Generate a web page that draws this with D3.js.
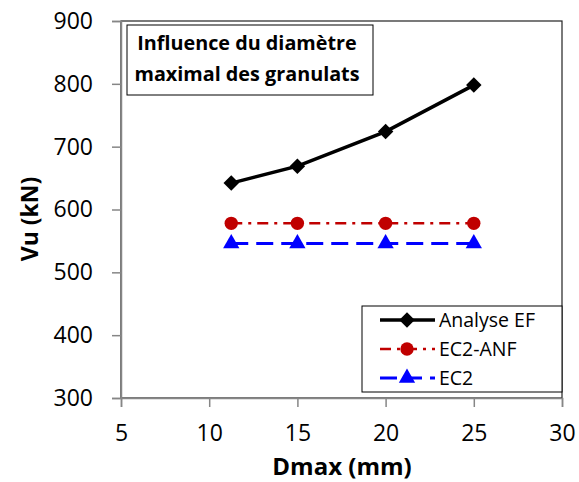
<!DOCTYPE html>
<html>
<head>
<meta charset="utf-8">
<script src="https://cdn.jsdelivr.net/npm/d3@7"></script>
<style>
  body { margin: 0; background: #fff; }
  text { font-family: "Open Sans", sans-serif; }
</style>
</head>
<body>
<svg id="chart"></svg>
<script>
// data
const dmax = [11.25, 15, 20, 25];
const analyseEF = [642, 669, 724, 798];
const ec2ANF = [578, 578, 578, 578];
const ec2 = [546, 546, 546, 546];
const xTicks = [5, 10, 15, 20, 25, 30];
const yTicks = [300, 400, 500, 600, 700, 800, 900];

const width = 579, height = 482;
const margin = { top: 21, right: 17, bottom: 84, left: 121 };

const svg = d3.select('#chart')
  .attr('width', width)
  .attr('height', height);

const x = d3.scaleLinear().domain([5, 30]).range([margin.left, width - margin.right]);
const y = d3.scaleLinear().domain([300, 900]).range([height - margin.bottom, margin.top]);

// plot frame
svg.append('rect')
  .attr('x', x(5)).attr('y', y(900))
  .attr('width', x(30) - x(5)).attr('height', y(300) - y(900))
  .attr('fill', 'none').attr('stroke', '#222').attr('stroke-width', 1.2);

// axes
const yAxis = svg.append('g')
  .attr('transform', `translate(${x(5)},0)`)
  .call(d3.axisLeft(y).tickValues(yTicks).tickSize(9).tickPadding(19));
const xAxis = svg.append('g')
  .attr('transform', `translate(0,${y(300)})`)
  .call(d3.axisBottom(x).tickValues(xTicks).tickSize(9).tickPadding(18));
[xAxis, yAxis].forEach(g => {
  g.select('.domain').attr('stroke', '#868686').attr('stroke-width', 1.5);
  g.selectAll('.tick line').attr('stroke', '#868686').attr('stroke-width', 1.5);
  g.selectAll('.tick text').attr('fill', '#000').style('font-size', '23px')
    .style('font-family', '"Open Sans", sans-serif');
});

// axis titles
svg.append('text')
  .attr('transform', `translate(38,${219}) rotate(-90)`)
  .attr('text-anchor', 'middle')
  .style('font-size', '23px').style('font-weight', 'bold')
  .text('Vu (kN)');
svg.append('text')
  .attr('x', 342).attr('y', 475)
  .attr('text-anchor', 'middle')
  .style('font-size', '24px').style('font-weight', 'bold')
  .text('Dmax (mm)');

const diamond = { draw(ctx, size) { const r = Math.sqrt(size / 2); ctx.moveTo(0, -r); ctx.lineTo(r, 0); ctx.lineTo(0, r); ctx.lineTo(-r, 0); ctx.closePath(); } };

const series = [
  { name: 'Analyse EF', values: analyseEF, color: '#000000', dash: null, width: 3.5, symbol: diamond, size: 120 },
  { name: 'EC2-ANF', values: ec2ANF, color: '#C00000', dash: '11,6,3,6', width: 2.5, symbol: d3.symbolCircle, size: 140 },
  { name: 'EC2', values: ec2, color: '#0000FF', dash: '17,8', width: 3, symbol: d3.symbolTriangle, size: 115 }
];

const line = d3.line().x(d => x(d[0])).y(d => y(d[1]));

series.forEach(s => {
  const pts = dmax.map((d, i) => [d, s.values[i]]);
  svg.append('path')
    .datum(pts)
    .attr('d', line)
    .attr('fill', 'none')
    .attr('stroke', s.color)
    .attr('stroke-width', s.width)
    .attr('stroke-dasharray', s.dash);
  svg.selectAll(null)
    .data(pts)
    .join('path')
    .attr('transform', d => `translate(${x(d[0])},${y(d[1])})`)
    .attr('d', d3.symbol().type(s.symbol).size(s.size))
    .attr('fill', s.color);
});

// title box
const tb = svg.append('g');
tb.append('rect')
  .attr('x', 127).attr('y', 25).attr('width', 246).attr('height', 70)
  .attr('fill', '#fff').attr('stroke', '#000').attr('stroke-width', 1);
tb.append('text').attr('x', 247).attr('y', 50).attr('text-anchor', 'middle')
  .style('font-size', '19.8px').style('font-weight', 'bold').text('Influence du diamètre');
tb.append('text').attr('x', 247).attr('y', 81).attr('text-anchor', 'middle')
  .style('font-size', '19.8px').style('font-weight', 'bold').text('maximal des granulats');

// legend
const lg = svg.append('g');
lg.append('rect')
  .attr('x', 362).attr('y', 306).attr('width', 200).attr('height', 86)
  .attr('fill', '#fff').attr('stroke', '#000').attr('stroke-width', 1);
series.forEach((s, i) => {
  const ly = 320 + i * 29;
  lg.append('line')
    .attr('x1', 380).attr('x2', 435).attr('y1', ly).attr('y2', ly)
    .attr('stroke', s.color).attr('stroke-width', s.width)
    .attr('stroke-dasharray', s.dash);
  lg.append('path')
    .attr('transform', `translate(407,${ly})`)
    .attr('d', d3.symbol().type(s.symbol).size(s.size))
    .attr('fill', s.color);
  lg.append('text')
    .attr('x', 439).attr('y', ly + 7)
    .style('font-size', '19.5px')
    .text(s.name);
});
</script>
</body>
</html>
